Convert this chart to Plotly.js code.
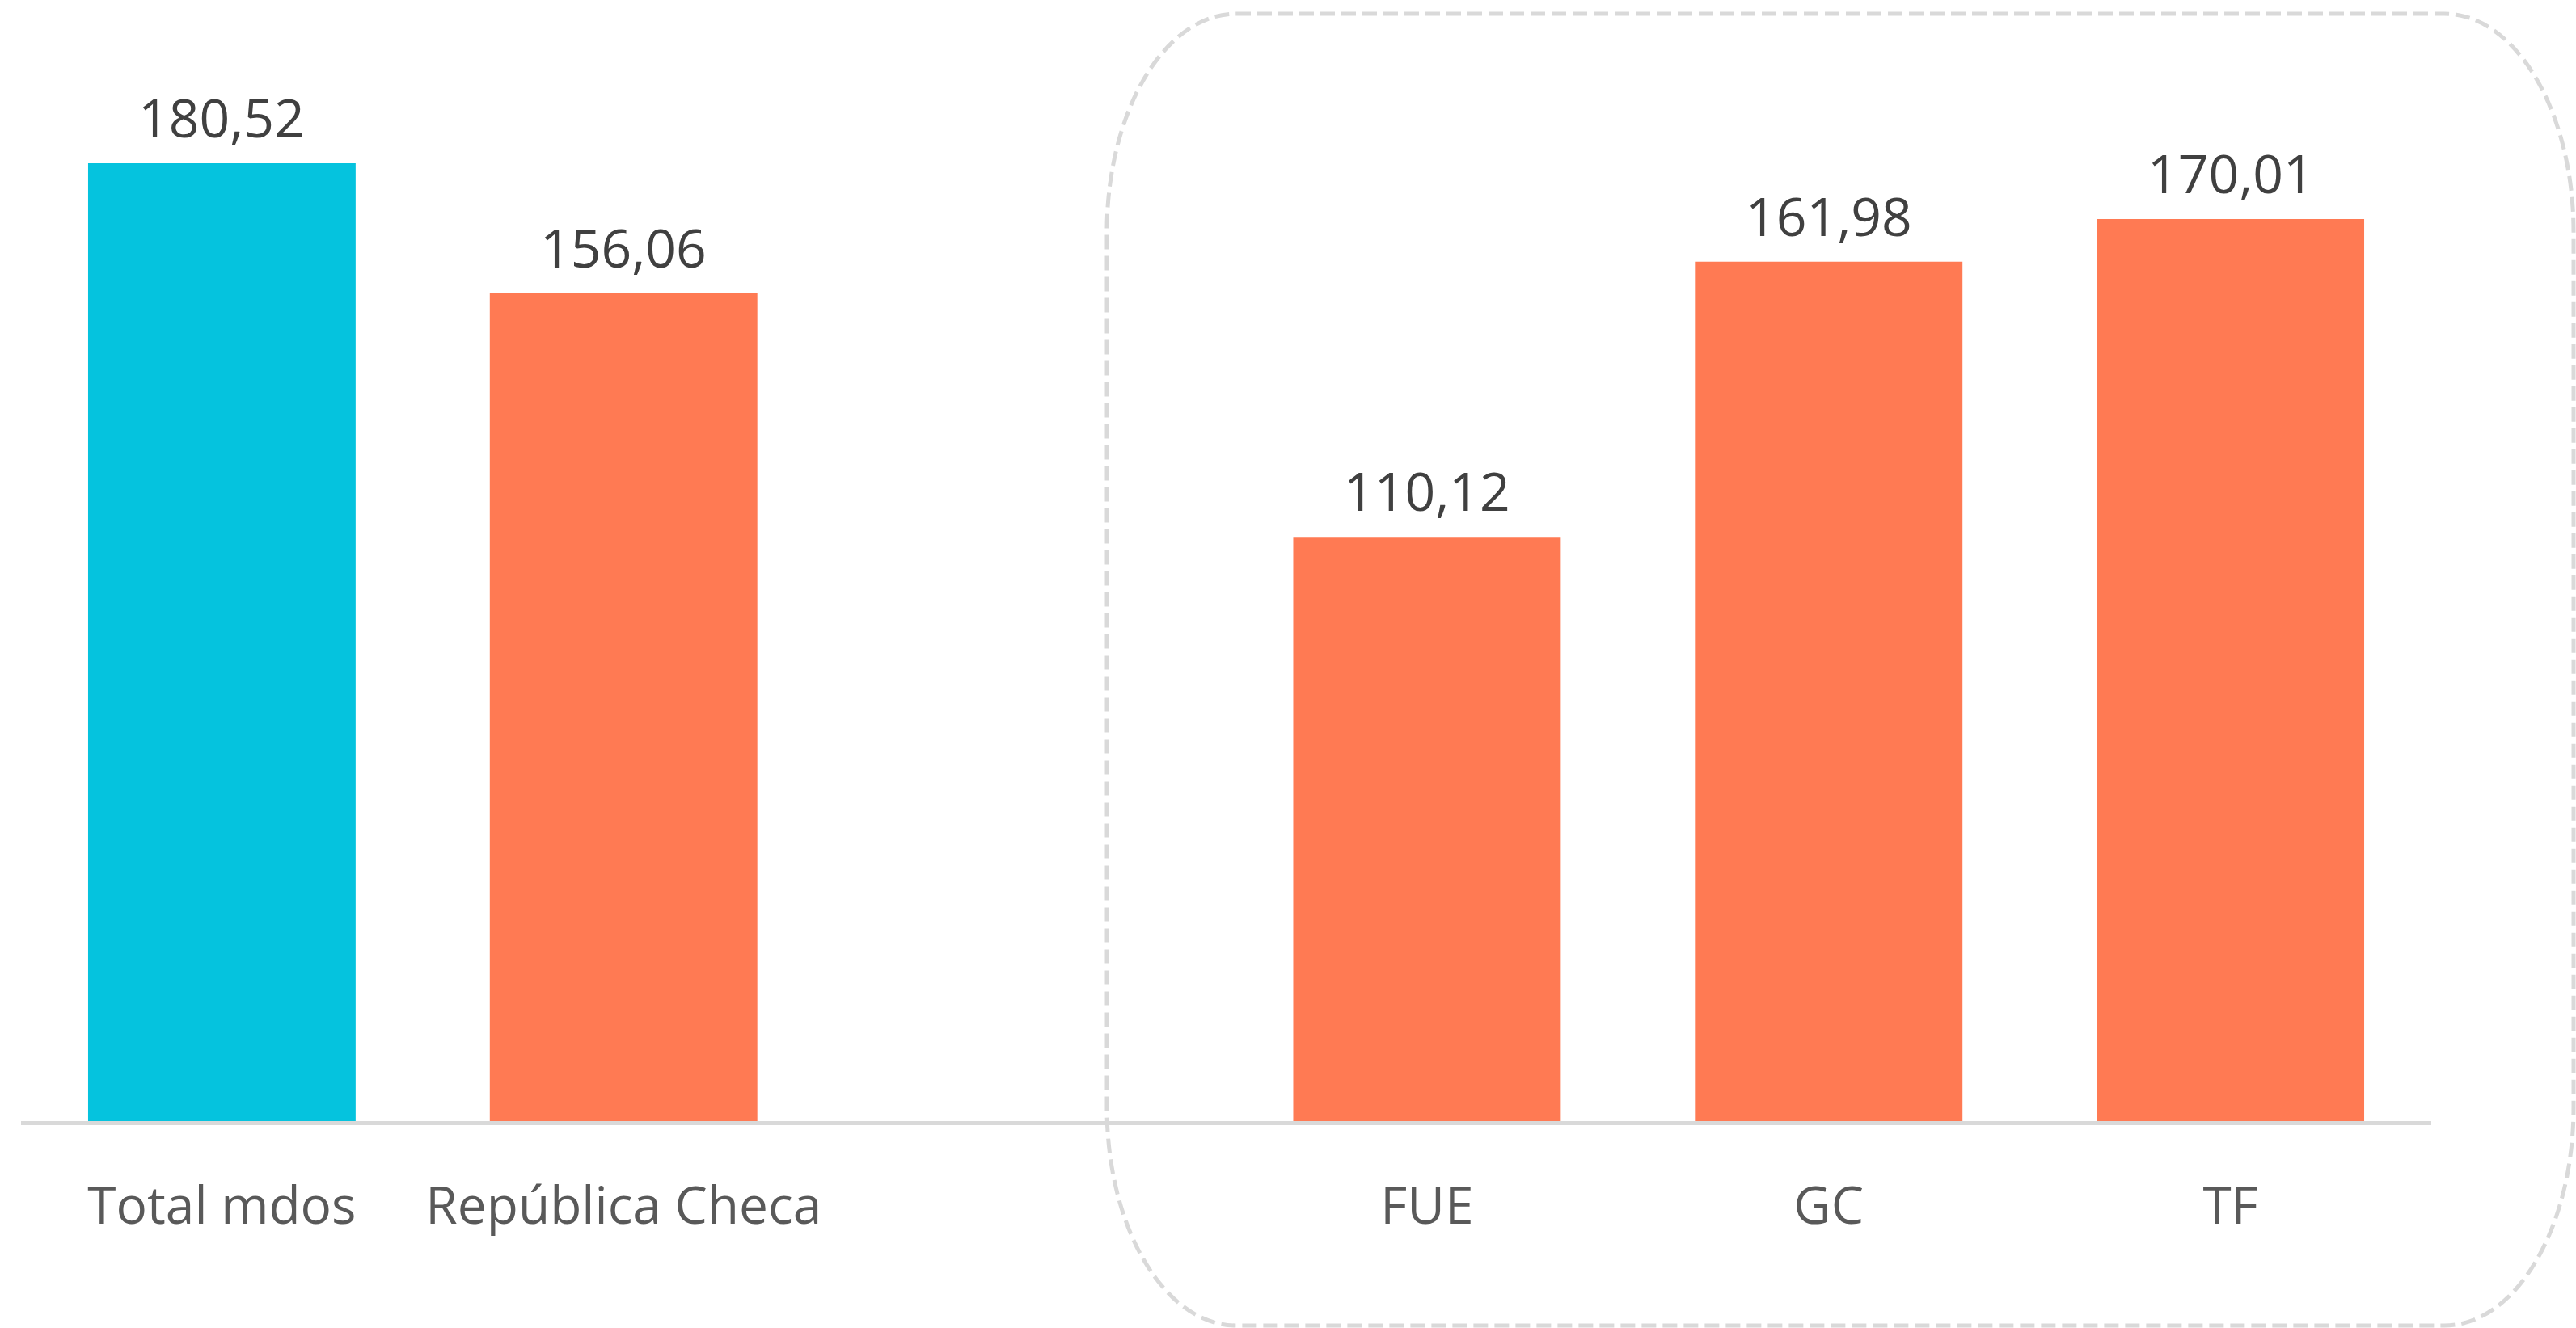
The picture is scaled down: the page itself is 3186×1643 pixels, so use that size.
<!DOCTYPE html>
<html>
<head>
<meta charset="utf-8">
<script src="https://cdn.plot.ly/plotly-3.0.1.min.js"></script>
<style>html,body{margin:0;padding:0;background:#fff;}#chart{width:3186px;height:1643px;}</style>
</head>
<body>
<div id="chart"></div>
<script>
// ---- data ----
const groupACategories = ["Total mdos", "República Checa"];
const groupAValues = [180.52, 156.06];
const groupBCategories = ["FUE", "GC", "TF"];
const groupBValues = [110.12, 161.98, 170.01];
const spacerCategory = " ";

// ---- styles ----
const totalColor = "#05c3de";
const regionColor = "#ff7a53";

const x = [...groupACategories, spacerCategory, ...groupBCategories];
const y = [...groupAValues, null, ...groupBValues];
const colors = x.map((c, i) => i === 0 ? totalColor : regionColor);
const fmt = v => v.toFixed(2).replace('.', ',');

const W = 3186, H = 1643;
const mL = 26, mR = 179, mT = 0, mB = 256;
const pw = W - mL - mR, ph = H - mT - mB;
const px = v => (v - mL) / pw;
const py = v => (H - mB - v) / ph;

// dashed rounded box (pixel geometry -> paper coords)
const L = 1369, R = 3183, T = 17, B = 1640, rx = 160, ry = 270, k = 0.5523;
const P = (a, b) => px(a).toFixed(5) + ',' + py(b).toFixed(5);
const boxPath =
  'M' + P(L + rx, T) + ' L' + P(R - rx, T) +
  ' C' + P(R - rx + k * rx, T) + ' ' + P(R, T + ry - k * ry) + ' ' + P(R, T + ry) +
  ' L' + P(R, B - ry) +
  ' C' + P(R, B - ry + k * ry) + ' ' + P(R - rx + k * rx, B) + ' ' + P(R - rx, B) +
  ' L' + P(L + rx, B) +
  ' C' + P(L + rx - k * rx, B) + ' ' + P(L, B - ry + k * ry) + ' ' + P(L, B - ry) +
  ' L' + P(L, T + ry) +
  ' C' + P(L, T + ry - k * ry) + ' ' + P(L + rx - k * rx, T) + ' ' + P(L + rx, T) + ' Z';

const annotations = [];
x.forEach((c, i) => {
  if (y[i] === null) return;
  annotations.push({
    x: c, y: y[i], xref: 'x', yref: 'y', text: fmt(y[i]), showarrow: false,
    yanchor: 'bottom', yshift: 11,
    font: {family: 'Open Sans, sans-serif', size: 66, color: '#404040'}
  });
});

const trace = {
  type: 'bar', x: x, y: y,
  marker: {color: colors},
  hoverinfo: 'skip'
};

const layout = {
  width: W, height: H,
  margin: {l: mL, r: mR, t: mT, b: mB, pad: 0},
  paper_bgcolor: '#ffffff', plot_bgcolor: '#ffffff',
  showlegend: false,
  bargap: 0.334,
  xaxis: {
    type: 'category', categoryorder: 'array', categoryarray: x,
    showline: true, linecolor: '#d9d9d9', linewidth: 5,
    showgrid: false, zeroline: false,
    ticks: 'outside', ticklen: 45, tickcolor: 'rgba(0,0,0,0)',
    tickfont: {family: 'Open Sans, sans-serif', size: 64, color: '#595959'},
    fixedrange: true
  },
  yaxis: {
    range: [0, 211.3], visible: false, showgrid: false, zeroline: false, fixedrange: true
  },
  annotations: annotations,
  shapes: [{
    type: 'path', xref: 'paper', yref: 'paper', path: boxPath,
    line: {color: '#d9d9d9', width: 5, dash: '18px,8px'},
    fillcolor: 'rgba(0,0,0,0)', layer: 'below'
  }]
};

Plotly.newPlot('chart', [trace], layout, {displayModeBar: false, staticPlot: true});
</script>
</body>
</html>
